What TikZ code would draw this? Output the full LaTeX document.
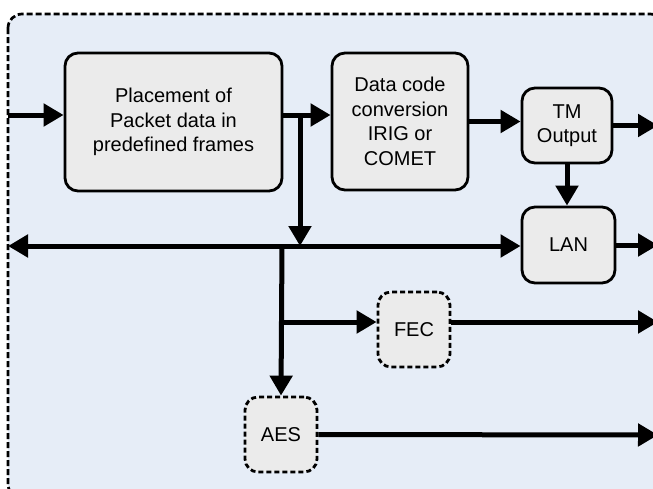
\documentclass[tikz,border=0pt]{standalone}
\usepackage{fontspec}
\setmainfont{Liberation Sans}
\usetikzlibrary{arrows.meta,calc}
\definecolor{bgblue}{RGB}{230,237,247}
\definecolor{boxgray}{RGB}{235,235,235}
\tikzset{
  blk/.style={draw, line width=2.8pt, rounded corners=13pt, fill=boxgray, align=center,
    inner sep=0pt, font=\fontsize{20}{24.5}\selectfont},
  optblk/.style={blk, dash pattern=on 5pt off 3pt},
  arw/.style={line width=5pt, -{Triangle[length=20pt,width=22pt]}},
}
\begin{document}
\begin{tikzpicture}[x=1pt,y=-1pt]
\useasboundingbox (0,0) rectangle (653,488);
\clip (0,0) rectangle (653,488);
% Draw the dashed frame round the whole unit
\draw[line width=2.7pt, dash pattern=on 6pt off 3pt, rounded corners=14pt, fill=bgblue]
  (8,14) rectangle (664,498);
% Draw the blocks
\node[blk, minimum width=217pt, minimum height=138pt] (place) at (173.5,122)
  {Placement of\\Packet data in\\predefined frames};
\node[blk, minimum width=136pt, minimum height=137pt] (conv) at (400,121.5)
  {Data code\\conversion\\IRIG or\\COMET};
\node[blk, minimum width=90pt, minimum height=75pt] (tm) at (567,125.5) {TM\\Output};
\node[blk, minimum width=93pt, minimum height=76pt] (lan) at (568.5,245) {LAN};
% Optional blocks are dashed
\node[optblk, minimum width=72pt, minimum height=75pt] (fec) at (414,329.5) {FEC};
\node[optblk, minimum width=72pt, minimum height=75pt] (aes) at (281,434.5) {AES};
% Points where the lines split or leave the frame
\coordinate (in) at (8,115);
\coordinate (split) at (300,115);
\coordinate (hub) at (282,246);
\coordinate (busL) at (8,246);
\coordinate (fork) at (282,322);
\coordinate (tmout) at (658,125.5);
\coordinate (lanout) at (658,245);
\coordinate (fecout) at (658,322);
\coordinate (aesout) at (658,435);
% Main path
\draw[arw] (in) -- (place.west |- in);
\draw[arw] (place.east |- in) -- (conv.west |- in);
\draw[arw] (split) -- (split |- hub);
\draw[arw] (conv.east) -- (conv.east -| tm.west);
\draw[arw] (tm.east) -- (tmout);
\draw[arw] (tm.south) -- (tm.south |- lan.north);
\draw[arw] (lan.east) -- (lanout);
% The bus
\draw[arw] (hub) -- (busL);
\draw[arw] (hub) -- (hub -| lan.west);
\draw[arw] (hub) -- (aes.north);
\draw[arw] (fork) -- (fork -| fec.west);
\draw[arw] (fec.east |- fork) -- (fecout);
\draw[arw] (aes.east) -- (aesout);
\end{tikzpicture}
\end{document}
